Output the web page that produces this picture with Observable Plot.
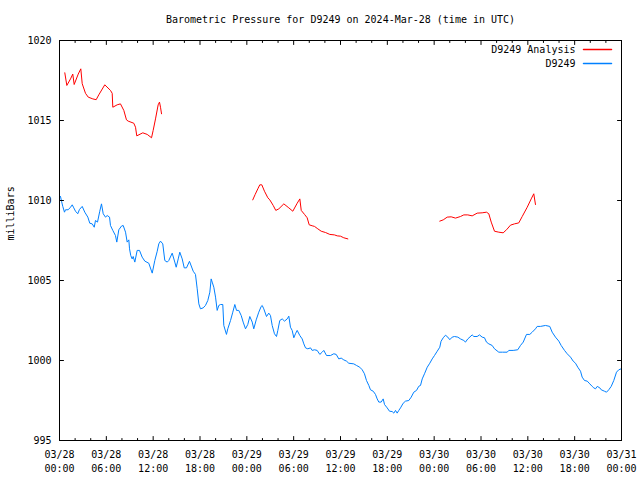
<!DOCTYPE html>
<html><head><meta charset="utf-8">
<script src="https://cdn.jsdelivr.net/npm/d3@7"></script>
<script src="https://cdn.jsdelivr.net/npm/@observablehq/plot@0.6"></script>
<style>body{margin:0;background:#fff}</style>
</head><body><div id="chart"></div>
<script>
const title = "Barometric Pressure for D9249 on 2024-Mar-28 (time in UTC)";
const yLabel = "milliBars";
const seriesNames = ["D9249 Analysis", "D9249"];
const seriesColors = ["#ff0000", "#0080ff"];
const startUTC = "2024-03-28T00:00Z";
const endUTC = "2024-03-31T00:00Z";
const yDomain = [995, 1020];
const yTicks = [995, 1000, 1005, 1010, 1015, 1020];

// hours after 2024-03-28 00:00 UTC; null = gap in the analysis line
const analysisHours = [
  0.68,0.94,1.41,1.70,1.88,2.40,2.73,2.91,3.33,3.68,4.27,4.70,5.03,5.80,6.53,6.75,6.83,7.39,7.81,8.24,8.58,8.80,9.52,9.74,9.90,10.67,11.24,11.79,12.00,12.30,12.64,12.81,12.94,13.07,
  18.0,
  24.76,25.07,25.41,25.66,25.92,26.26,26.69,26.94,27.38,27.71,28.10,28.74,29.38,29.89,30.45,30.79,30.97,31.39,31.73,31.99,32.37,32.67,33.09,33.53,34.08,34.63,35.23,35.58,36.00,36.42,36.94,
  42.0,
  48.72,49.16,49.67,50.18,50.73,51.37,51.80,52.31,52.87,53.51,54.15,54.70,55.00,55.31,55.73,56.28,56.84,57.27,57.78,58.29,58.84,59.28,59.92,60.43,60.76,60.98
];
const analysisValues = [
  1017.98,1017.19,1017.6,1017.9,1017.25,1017.9,1018.23,1017.3,1016.7,1016.46,1016.35,1016.3,1016.6,1017.23,1016.88,1016.7,1015.83,1015.98,1016.04,1015.63,1015.04,1014.96,1014.83,1014.58,1014.04,1014.23,1014.13,1013.92,1014.38,1015.1,1015.98,1016.15,1015.83,1015.42,
  null,
  1010.04,1010.38,1010.73,1010.98,1010.98,1010.58,1010.17,1010.04,1009.69,1009.38,1009.48,1009.79,1009.54,1009.33,1009.83,1010.1,1009.38,1009.13,1008.92,1008.48,1008.42,1008.38,1008.23,1008.08,1008.0,1007.88,1007.85,1007.79,1007.77,1007.67,1007.6,
  null,
  1008.71,1008.79,1008.96,1008.98,1008.9,1009.0,1009.1,1009.1,1009.04,1009.21,1009.23,1009.27,1009.17,1008.65,1008.08,1008.02,1007.98,1008.17,1008.46,1008.54,1008.6,1009.0,1009.58,1010.1,1010.42,1009.75
];

const stationHours = [
  0.13,0.26,0.42,0.64,0.77,1.11,1.41,1.63,1.83,2.05,2.34,2.56,2.91,3.24,3.63,3.88,4.19,4.45,4.61,4.87,5.16,5.38,5.60,5.89,6.11,6.41,6.53,6.83,7.17,7.34,7.60,7.94,8.16,8.46,8.67,8.88,8.97,9.13,9.31,9.44,9.65,9.95,10.25,10.59,10.93,11.44,11.88,12.21,12.52,12.72,12.94,13.23,13.49,13.80,14.00,14.44,14.77,14.95,15.21,15.41,15.72,15.98,16.27,16.65,17.13,17.42,17.64,17.85,18.06,18.41,18.70,19.00,19.26,19.43,19.56,19.77,19.99,20.20,20.41,20.63,20.92,21.05,21.39,21.56,21.91,22.20,22.46,22.68,22.97,23.28,23.53,23.83,24.12,24.38,24.69,24.89,25.20,25.53,25.84,25.97,26.17,26.52,26.81,27.03,27.25,27.54,27.80,27.97,28.22,28.53,28.83,29.17,29.38,29.59,29.81,30.02,30.23,30.45,30.79,31.09,31.30,31.52,31.81,32.16,32.37,32.67,33.01,33.35,33.65,33.86,34.21,34.72,35.14,35.45,35.78,36.09,36.42,36.77,37.06,37.70,38.05,38.47,38.78,39.07,39.33,39.63,39.84,40.19,40.48,40.70,40.91,41.21,41.47,41.64,41.98,42.28,42.62,42.83,43.05,43.26,43.47,43.69,44.03,44.33,44.75,45.06,45.39,45.74,46.03,46.25,46.47,46.76,47.11,47.44,47.75,48.04,48.39,48.72,48.88,49.16,49.45,49.75,50.00,50.31,50.60,51.03,51.37,51.80,52.01,52.31,52.87,53.08,53.51,53.81,54.15,54.45,54.70,55.00,55.43,55.73,56.28,56.75,57.36,57.56,58.12,58.71,59.06,59.41,59.83,60.25,60.56,60.98,61.20,61.62,62.26,62.81,63.12,63.54,63.97,64.27,64.70,65.04,65.47,65.81,66.11,66.40,66.75,66.96,67.26,67.61,67.94,68.25,68.45,68.67,68.89,69.22,69.40,69.82,70.08,70.37,70.68,71.01,71.36,71.65,71.96
];
const stationValues = [
  1010.25,1009.96,1009.63,1009.27,1009.42,1009.42,1009.58,1009.73,1009.54,1009.33,1009.17,1009.44,1009.63,1009.27,1008.96,1008.58,1008.54,1008.33,1008.75,1008.65,1009.33,1009.79,1009.17,1008.96,1009.06,1008.96,1008.44,1008.13,1007.81,1007.40,1008.17,1008.40,1008.44,1008.02,1007.40,1007.54,1006.98,1006.56,1006.35,1006.50,1006.15,1006.88,1006.88,1006.46,1006.21,1006.08,1005.46,1006.25,1006.83,1007.29,1007.46,1007.29,1006.25,1006.15,1006.25,1006.71,1006.15,1005.83,1006.35,1006.77,1006.35,1005.79,1005.79,1006.2,1005.58,1005.38,1004.48,1003.54,1003.23,1003.29,1003.44,1003.75,1004.27,1005.10,1004.90,1004.58,1003.96,1003.13,1003.44,1003.50,1003.50,1002.19,1001.63,1001.98,1002.50,1003.02,1003.50,1003.13,1003.13,1002.81,1002.40,1001.98,1002.25,1002.75,1002.40,1001.98,1002.54,1003.02,1003.38,1003.44,1003.23,1002.75,1002.96,1002.81,1002.19,1001.67,1001.50,1001.88,1002.50,1002.60,1002.46,1002.60,1002.77,1002.08,1001.88,1001.42,1001.67,1001.88,1001.56,1001.35,1001.04,1000.79,1000.73,1000.79,1000.63,1000.67,1000.63,1000.38,1000.52,1000.63,1000.31,1000.31,1000.42,1000.38,1000.10,1000.15,1000.04,999.96,999.83,999.79,999.69,999.58,999.42,999.17,998.75,998.44,998.17,998.08,997.88,997.60,997.40,997.40,997.60,997.25,997.04,996.83,996.81,996.71,996.88,996.71,996.88,997.04,997.33,997.46,997.50,997.71,998.02,998.13,998.39,998.44,998.85,999.17,999.58,999.83,1000.10,1000.31,1000.58,1000.83,1001.2,1001.42,1001.58,1001.46,1001.30,1001.46,1001.50,1001.46,1001.35,1001.25,1001.15,1001.35,1001.60,1001.50,1001.50,1001.60,1001.46,1001.42,1001.15,1001.04,1000.94,1000.73,1000.52,1000.52,1000.52,1000.63,1000.63,1000.67,1000.94,1001.15,1001.63,1001.63,1001.77,1001.98,1002.13,1002.13,1002.19,1002.13,1001.77,1001.46,1001.21,1000.94,1000.63,1000.42,1000.21,999.96,999.83,999.58,999.33,998.96,998.75,998.71,998.54,998.38,998.29,998.23,998.38,998.29,998.17,998.08,998.02,998.17,998.38,998.75,999.27,999.42,999.48
];

const t0 = new Date(startUTC), t1 = new Date(endUTC);
const toTime = h => new Date(+t0 + h * 3600e3);
const analysis = analysisHours.map((h, i) => ({t: toTime(h), p: analysisValues[i]}));
const station = stationHours.map((h, i) => ({t: toTime(h), p: stationValues[i]}));

const majorX = d3.utcHour.every(6).range(t0, new Date(+t1 + 1));
const minorX = d3.utcHour.every(2).range(t0, new Date(+t1 + 1)).filter(d => d.getUTCHours() % 6 !== 0);

const lineShape = {draw(ctx, l) { ctx.moveTo(0, 0); ctx.lineTo(0, -l); }};
const tickOpts = {shape: lineShape, anchor: "start", stroke: "black", strokeWidth: 1};

const chart = Plot.plot({
  width: 640, height: 480,
  marginLeft: 59, marginRight: 19, marginTop: 40, marginBottom: 40,
  style: {fontFamily: "'DejaVu Sans Mono', monospace", fontSize: "10px", color: "black", background: "white"},
  x: {type: "utc", domain: [t0, t1]},
  y: {domain: yDomain},
  marks: [
    Plot.line(analysis, {x: "t", y: "p", stroke: seriesColors[0], strokeWidth: 1, curve: "linear"}),
    Plot.line(station, {x: "t", y: "p", stroke: seriesColors[1], strokeWidth: 1, curve: "linear"}),
    Plot.frame({stroke: "black"}),
    Plot.vector(majorX, {x: d => d, frameAnchor: "bottom", length: 4, rotate: 0, ...tickOpts}),
    Plot.vector(majorX, {x: d => d, frameAnchor: "top", length: 4, rotate: 180, ...tickOpts}),
    Plot.vector(minorX, {x: d => d, frameAnchor: "bottom", length: 2, rotate: 0, ...tickOpts}),
    Plot.vector(minorX, {x: d => d, frameAnchor: "top", length: 2, rotate: 180, ...tickOpts}),
    Plot.vector(yTicks, {y: d => d, frameAnchor: "left", length: 4, rotate: 90, ...tickOpts}),
    Plot.vector(yTicks, {y: d => d, frameAnchor: "right", length: 4, rotate: -90, ...tickOpts}),
    Plot.axisX(majorX, {tickFormat: d3.utcFormat("%m/%d"), tickSize: 0, tickPadding: 10, label: null}),
    Plot.axisX(majorX, {tickFormat: d3.utcFormat("%H:%M"), tickSize: 0, tickPadding: 24, label: null}),
    Plot.axisY(yTicks, {tickSize: 0, tickPadding: 8, label: null, tickFormat: d => String(d)}),
    Plot.text([yLabel], {frameAnchor: "left", rotate: -90, dx: -49, lineAnchor: "middle", fill: "black"}),
    Plot.text([title], {frameAnchor: "top", dy: -21, lineAnchor: "middle", fill: "black"}),
    Plot.text([seriesNames[0]], {frameAnchor: "top-right", dx: -46, dy: 9, lineAnchor: "middle", textAnchor: "end", fill: "black"}),
    Plot.text([seriesNames[1]], {frameAnchor: "top-right", dx: -46, dy: 23, lineAnchor: "middle", textAnchor: "end", fill: "black"}),
    Plot.vector([0], {frameAnchor: "top-right", dx: -38, dy: 9, length: 28, rotate: 90, shape: lineShape, anchor: "start", stroke: seriesColors[0]}),
    Plot.vector([0], {frameAnchor: "top-right", dx: -38, dy: 23, length: 28, rotate: 90, shape: lineShape, anchor: "start", stroke: seriesColors[1]})
  ]
});
document.getElementById("chart").appendChild(chart);
</script>
</body></html>
